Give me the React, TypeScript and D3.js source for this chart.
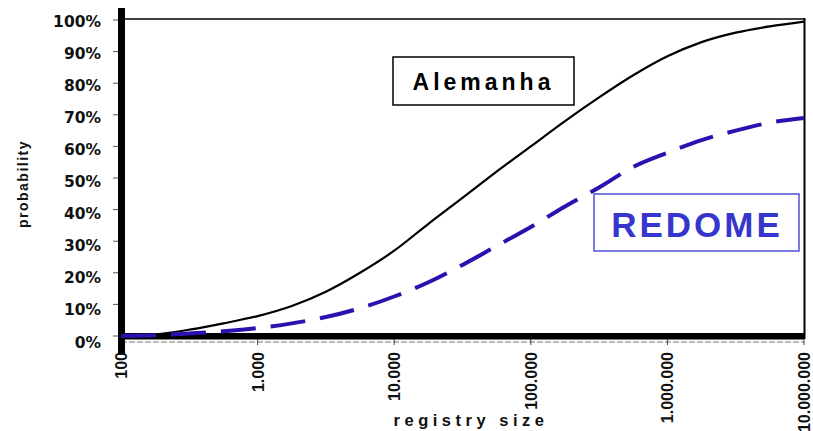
import React from "react";
import * as d3 from "d3";

const alemanhaSize = [100, 178, 316, 562, 1000, 1780, 3160, 5620, 10000, 17800, 31600, 56200, 100000, 178000, 316000, 562000, 1000000, 1780000, 3160000, 5620000, 10000000];
const alemanhaProb = [0, 0.5, 2, 4, 6.3, 9.5, 14, 20, 27, 35.5, 43.7, 52, 60, 68, 75.5, 82.5, 88.5, 93, 96, 98, 99.5];

const redomeSize = [100, 178, 316, 562, 1000, 1780, 3160, 5620, 10000, 17800, 31600, 56200, 100000, 178000, 316000, 562000, 1000000, 1780000, 3160000, 5620000, 10000000];
const redomeProb = [0, 0.2, 0.8, 1.5, 2.5, 4, 6, 8.8, 12.5, 17, 22.5, 28.5, 34.5, 41, 47, 53.5, 58, 62, 65, 67.5, 69];

const xTickValues = [100, 1000, 10000, 100000, 1000000, 10000000];
const xTickLabels = ["100", "1.000", "10.000", "100.000", "1.000.000", "10.000.000"];
const yTickValues = [0, 10, 20, 30, 40, 50, 60, 70, 80, 90, 100];
const yTickLabels = ["0%", "10%", "20%", "30%", "40%", "50%", "60%", "70%", "80%", "90%", "100%"];

const W = 813;
const H = 431;
const BLUE = "#2b12b0";

export default function App() {
  const x = d3.scaleLog().domain([100, 10000000]).range([121, 804]);
  const y = d3.scaleLinear().domain([0, 100]).range([336, 20]);

  const line = d3
    .line<[number, number]>()
    .x((d) => x(d[0]))
    .y((d) => y(d[1]))
    .curve(d3.curveMonotoneX);

  const alemanha = line(alemanhaSize.map((s, i) => [s, alemanhaProb[i]]) as [number, number][]) || "";
  const redome = line(redomeSize.map((s, i) => [s, redomeProb[i]]) as [number, number][]) || "";

  const x0 = x(100);
  const x1 = x(10000000);
  const y0 = y(0);
  const yTop = y(100);

  return (
    <svg width={W} height={H} style={{ position: "absolute", left: 0, top: 0, background: "#fff" }}>
      <rect x={0} y={0} width={W} height={H} fill="#fff" />
      {/* frame top and right */}
      <line x1={x0} x2={x1 + 1} y1={yTop - 1} y2={yTop - 1} stroke="#000" strokeWidth={1.5} />
      <line x1={x1 + 0.5} x2={x1 + 0.5} y1={yTop - 2} y2={y0 + 3} stroke="#000" strokeWidth={2} />
      {/* thin scan line under bottom axis */}
      <line x1={x0} x2={x1} y1={y0 + 6} y2={y0 + 6} stroke="#777" strokeWidth={1} strokeDasharray="6,2" />
      {xTickValues.map((v, i) => (
        <line key={"xt" + i} x1={x(v)} x2={x(v)} y1={y0 + 3} y2={y0 + 9} stroke="#444" strokeWidth={1} />
      ))}
      {/* y ticks small */}
      {yTickValues.map((v, i) => (
        <line key={"yt" + i} x1={x0 - 8} x2={x0 - 3} y1={y(v)} y2={y(v)} stroke="#555" strokeWidth={1} />
      ))}

      {/* curves */}
      <path d={alemanha} fill="none" stroke="#000" strokeWidth={2.2} />

      {/* thick axes */}
      <rect x={x0 - 3} y={y0 - 3} width={x1 - x0 + 3} height={6.5} fill="#000" />
      <rect x={x0 - 3} y={8} width={7} height={347} fill="#000" />

      <path d={redome} fill="none" stroke={BLUE} strokeWidth={4} strokeDasharray="35,15" />

      {/* y tick labels */}
      {yTickValues.map((v, i) => (
        <text
          key={"yl" + i}
          x={101}
          y={y(v) + 2 + (100 - v) * 0.05}
          textAnchor="end"
          dominantBaseline="middle"
          fontFamily="DejaVu Sans"
          fontWeight="bold"
          fontSize={15.5}
          fill="#111"
        >
          {yTickLabels[i]}
        </text>
      ))}

      {/* x tick labels */}
      {xTickValues.map((v, i) => (
        <text
          key={"xl" + i}
          transform={`translate(${x(v) + 6},352) rotate(-90)`}
          textAnchor="end"
          fontFamily="Liberation Sans"
          fontWeight="bold"
          fontSize={16}
          fill="#111"
        >
          {xTickLabels[i]}
        </text>
      ))}

      {/* axis titles */}
      <text
        x={471}
        y={426}
        textAnchor="middle"
        fontFamily="Liberation Sans"
        fontWeight="bold"
        fontSize={16.5}
        letterSpacing={4.5}
        fill="#111"
      >
        registry size
      </text>
      <text
        transform="translate(28,184) rotate(-90)"
        textAnchor="middle"
        fontFamily="Liberation Sans"
        fontWeight="bold"
        fontSize={14}
        letterSpacing={1.5}
        fill="#111"
      >
        probability
      </text>

      {/* labels */}
      <rect x={393} y={57} width={181} height={48} fill="#fff" stroke="#000" strokeWidth={1.5} />
      <text
        x={483.5}
        y={90}
        textAnchor="middle"
        fontFamily="Liberation Sans"
        fontWeight="bold"
        fontSize={23}
        letterSpacing={4}
        fill="#000"
      >
        Alemanha
      </text>
      <rect x={594} y={194} width={205} height={57} fill="#fff" stroke="#5050d8" strokeWidth={1.5} />
      <text
        x={697}
        y={237}
        textAnchor="middle"
        fontFamily="Liberation Sans"
        fontWeight="bold"
        fontSize={35}
        letterSpacing={3}
        fill="#3636cc"
      >
        REDOME
      </text>
    </svg>
  );
}
